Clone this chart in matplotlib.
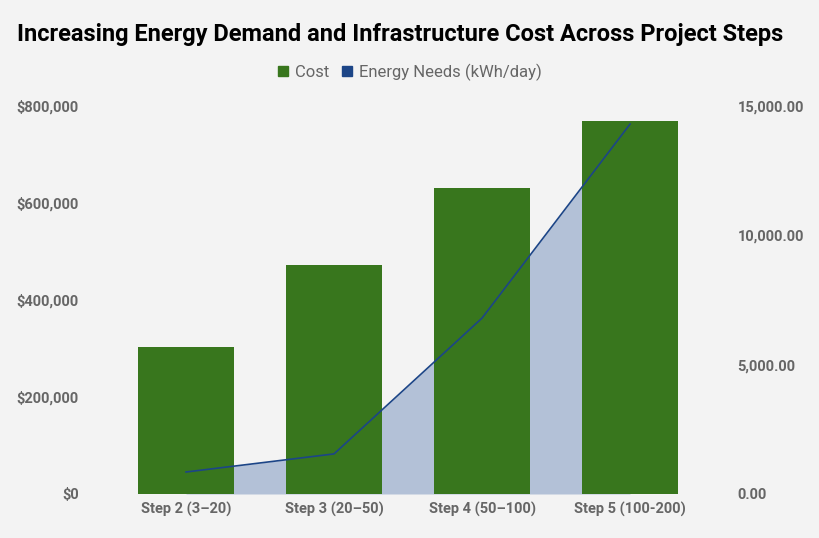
import numpy as np
import matplotlib.pyplot as plt
from matplotlib.patches import Patch
from matplotlib.ticker import FuncFormatter

# data
steps = ['Step 2 (3\u201320)', 'Step 3 (20\u201350)', 'Step 4 (50\u2013100)', 'Step 5 (100-200)']
cost = [303000, 472000, 631000, 769000]
energy = [850, 1550, 6800, 14300]

green = '#38761d'
blue = '#1c4587'
fill_col = '#b3c1d7'
bg = '#f3f3f3'
grey = '#666666'

plt.rcParams['font.family'] = ['Roboto', 'DejaVu Sans']

fig = plt.figure(figsize=(8.2, 5.38), dpi=100, facecolor=bg)
ax2 = fig.add_axes([0.1366, 0.0818, 0.722, 0.7212])  # area (behind)
ax = fig.add_axes([0.1366, 0.0818, 0.722, 0.7212])   # bars
ax3 = fig.add_axes([0.1366, 0.0818, 0.722, 0.7212])  # line (front)
ax2.set_zorder(0)
ax.set_zorder(1)
ax3.set_zorder(2)
ax2.set_facecolor(bg)
ax.patch.set_visible(False)
ax3.patch.set_visible(False)

x = np.arange(len(steps))
ax.bar(x, cost, width=0.65, color=green)
ax.set_xlim(-0.5, len(steps) - 0.5)
ax.set_ylim(0, 800000)
ax.set_yticks([0, 200000, 400000, 600000, 800000])
ax.yaxis.set_major_formatter(FuncFormatter(lambda v, p: f'${v:,.0f}'))
ax.set_xticks(x)
ax.set_xticklabels(steps)
ax.tick_params(axis='y', length=0, pad=24, labelsize=10.5, labelcolor=grey)
ax.tick_params(axis='x', length=0, pad=6, labelsize=10.5, labelcolor=grey)
for lab in ax.get_xticklabels() + ax.get_yticklabels():
    lab.set_fontweight('bold')

ax2.fill_between(x, energy, 0, color=fill_col, linewidth=0)
ax3.plot(x, energy, color=blue, linewidth=1.2)
for a in (ax2, ax3):
    a.set_xlim(-0.5, len(steps) - 0.5)
    a.set_ylim(0, 15000)
    a.set_xticks([])
ax2.yaxis.tick_right()
ax2.set_yticks([0, 5000, 10000, 15000])
ax2.yaxis.set_major_formatter(FuncFormatter(lambda v, p: f'{v:,.2f}'))
ax2.tick_params(axis='y', length=0, pad=24, labelsize=10.5, labelcolor=grey)
for lab in ax2.get_yticklabels():
    lab.set_fontweight('bold')
ax3.set_yticks([])

for a in (ax, ax2, ax3):
    for s in a.spines.values():
        s.set_visible(False)

fig.text(0.021, 0.935, 'Increasing Energy Demand and Infrastructure Cost Across Project Steps',
         fontsize=17, fontweight='bold', color='black', va='center')

handles = [Patch(color=green, label='Cost'), Patch(color=blue, label='Energy Needs (kWh/day)')]
leg = fig.legend(handles=handles, loc='center', bbox_to_anchor=(0.5, 0.866), ncol=2,
                 frameon=False, fontsize=12, handlelength=0.6, handleheight=0.6,
                 handletextpad=0.4, columnspacing=0.8, labelcolor=grey)

fig.savefig('out.png', dpi=100, facecolor=bg)
